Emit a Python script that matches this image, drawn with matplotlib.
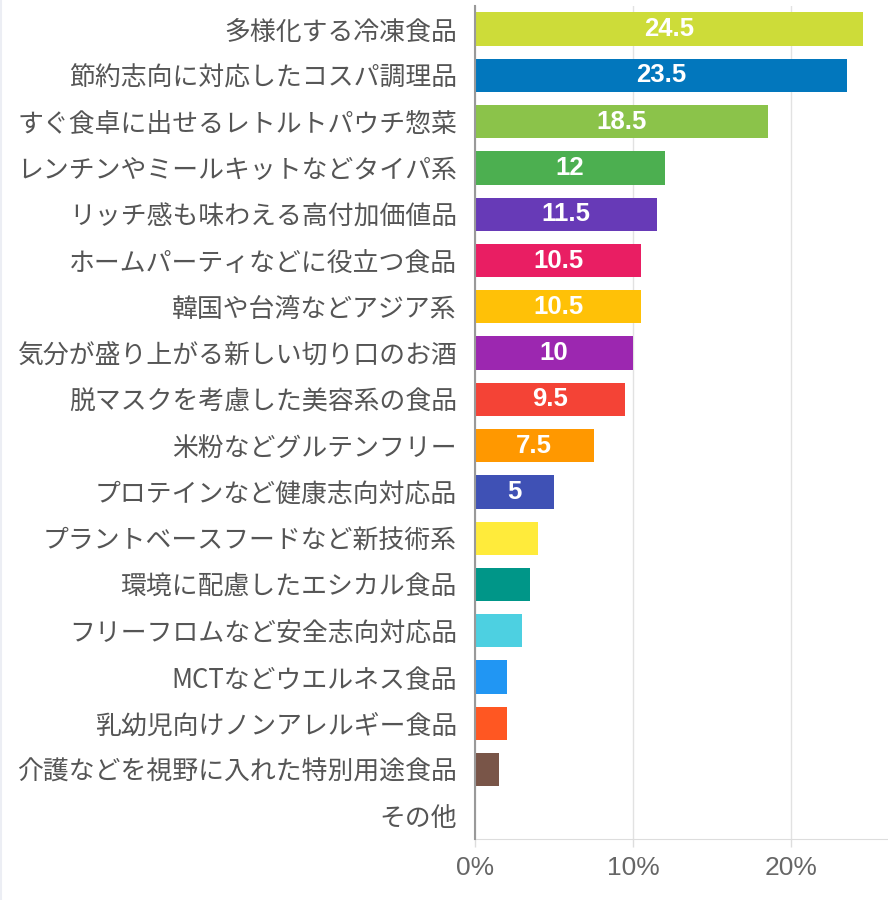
import matplotlib
matplotlib.use("Agg")
import matplotlib.pyplot as plt
from matplotlib.lines import Line2D
import numpy as np

categories = [
    "多様化する冷凍食品",
    "節約志向に対応したコスパ調理品",
    "すぐ食卓に出せるレトルトパウチ惣菜",
    "レンチンやミールキットなどタイパ系",
    "リッチ感も味わえる高付加価値品",
    "ホームパーティなどに役立つ食品",
    "韓国や台湾などアジア系",
    "気分が盛り上がる新しい切り口のお酒",
    "脱マスクを考慮した美容系の食品",
    "米粉などグルテンフリー",
    "プロテインなど健康志向対応品",
    "プラントベースフードなど新技術系",
    "環境に配慮したエシカル食品",
    "フリーフロムなど安全志向対応品",
    "MCTなどウエルネス食品",
    "乳幼児向けノンアレルギー食品",
    "介護などを視野に入れた特別用途食品",
    "その他",
]
values = [24.5, 23.5, 18.5, 12, 11.5, 10.5, 10.5, 10, 9.5, 7.5, 5,
          4, 3.5, 3, 2, 2, 1.5, 0]
colors = ["#CDDC39", "#0277BD", "#8BC34A", "#4CAF50", "#673AB7", "#E91E63",
          "#FFC107", "#9C27B0", "#F44336", "#FF9800", "#3F51B5", "#FFEB3B",
          "#009688", "#4DD0E1", "#2196F3", "#FF5722", "#795548", "#9E9E9E"]
xticks = [0, 10, 20]
xticklabels = ["0%", "10%", "20%"]

jp = ["Noto Sans CJK JP", "DejaVu Sans"]

fig = plt.figure(figsize=(8.88, 9), dpi=100)
ax = fig.add_axes([475 / 888, 1 - 839 / 900, 1 - 475 / 888, (839 - 6) / 900])

y = np.arange(len(categories))
ax.barh(y, values, height=0.72, color=colors, zorder=2)

for yi, v in zip(y, values):
    if v >= 5:
        ax.text(v / 2, yi, f"{v:g}", ha="center", va="center", color="white",
                fontsize=18.5, fontweight="bold", family="Liberation Sans", zorder=3)

ax.set_ylim(len(categories) - 0.5, -0.5)
ax.set_xlim(0, 26.1)
ax.set_yticks(y)
ax.set_yticklabels(categories, family=jp, fontsize=18.6, color="#555555")
ax.tick_params(axis="y", length=0, pad=13)
ax.set_xticks(xticks)
ax.set_xticklabels(xticklabels, family="Liberation Sans", fontsize=19, color="#666666")
ax.tick_params(axis="x", length=6, width=1, color="#dddddd", pad=6)

ax.grid(axis="x", color="#e2e2e2", linewidth=1, zorder=0)
ax.set_axisbelow(True)
for s in ["top", "right"]:
    ax.spines[s].set_visible(False)
ax.spines["bottom"].set_color("#dddddd")
ax.spines["left"].set_color("#999999")
ax.spines["left"].set_linewidth(1.5)
ax.spines["left"].set_zorder(4)

# faint frame line at the left edge of the image
fig.add_artist(Line2D([0.0006, 0.0006], [0, 1], color="#eceef4", linewidth=1.5))

fig.savefig("out.png", dpi=100)
